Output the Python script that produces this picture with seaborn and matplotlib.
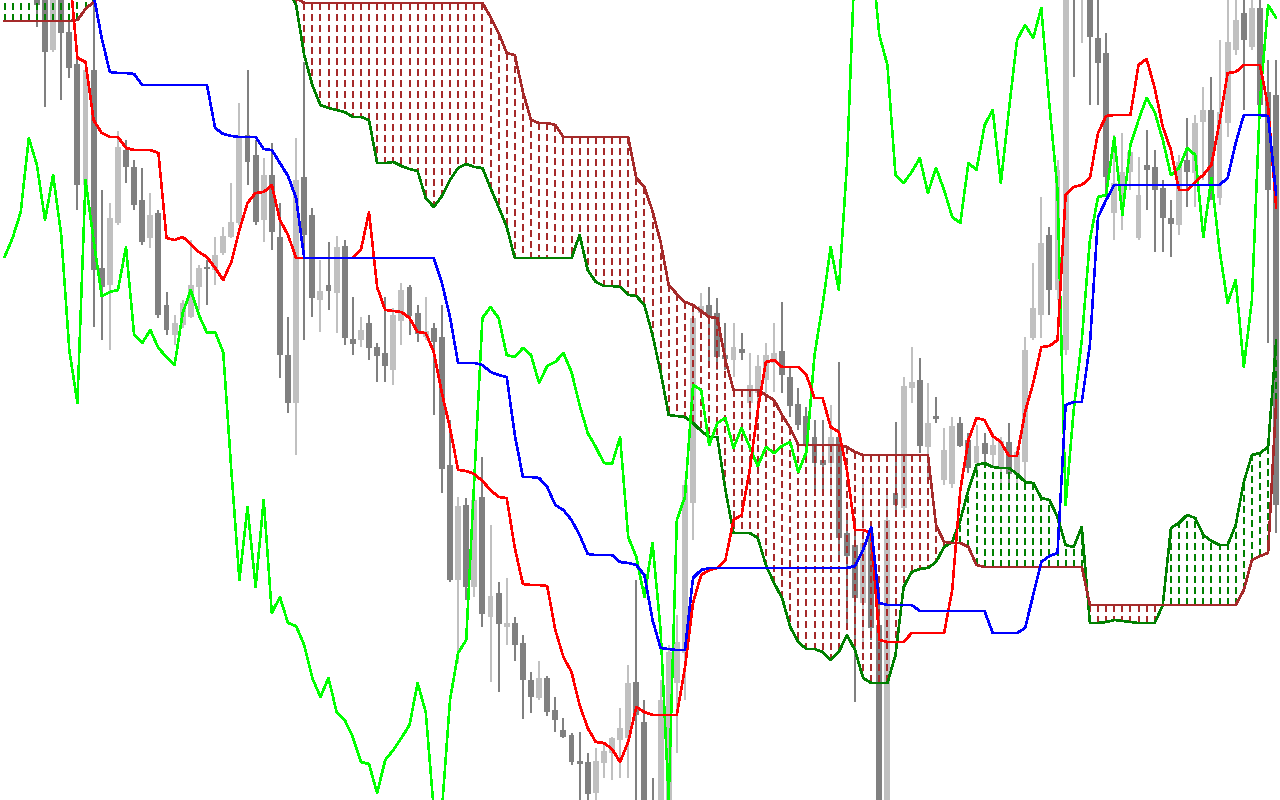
import numpy as np
import pandas as pd
import matplotlib
matplotlib.use("Agg")
import matplotlib.pyplot as plt
import seaborn as sns

# ---- data (price levels expressed in chart pixel rows, top = 0) ----
open_y = [-70, -50, -70, -60, -40, -20, 50, -10, 32, 64,
          185, 70, 268, 285, 223, 150, 167, 200, 238, 213,
          305, 335, 325, 317, 287, 267, 270, 253, 237, 223,
          135, 155, 220, 175, 237, 355, 403, 177, 215, 300,
          285, 293, 246, 339, 340, 323, 347, 353, 370, 321,
          287, 313, 337, 328, 337, 465, 580, 505, 587, 497,
          617, 593, 627, 623, 643, 680, 698, 678, 710, 730,
          735, 761, 762, 793, 763, 753, 740, 738, 682, 722,
          800, 830, 810, 683, 653, 503, 313, 305, 313, 355,
          360, 349, 403, 393, 380, 363, 351, 377, 404, 416,
          437, 460, 463, 437, 533, 545, 603, 533, 625, 805,
          493, 508, 388, 380, 447, 416, 480, 484, 423, 440,
          463, 443, 455, 467, 442, 475, 462, 338, 315, 235,
          290, 350, -90, -20, -20, 38, 53, 213, 200, 172,
          238, 165, 167, 188, 218, 225, 160, 173, 122, 110,
          198, 123, 50, 13, 47, 8, 92, 95]
close_y = [-50, -70, -50, -40, 5, 52, -10, 33, 68, 185,
           70, 270, 287, 218, 147, 167, 205, 242, 215, 315,
           330, 323, 303, 285, 268, 269, 255, 236, 222, 137,
           162, 222, 175, 232, 355, 403, 180, 235, 298, 291,
           291, 247, 338, 344, 330, 348, 356, 366, 315, 290,
           316, 334, 331, 342, 469, 580, 506, 587, 500, 614,
           596, 624, 623, 645, 680, 697, 678, 712, 720, 737,
           762, 764, 794, 761, 751, 738, 728, 683, 715, 810,
           812, 700, 652, 642, 485, 318, 306, 316, 357, 359,
           347, 353, 385, 366, 355, 353, 375, 406, 425, 445,
           463, 465, 437, 538, 556, 598, 543, 628, 805, 520,
           505, 386, 382, 446, 423, 419, 450, 426, 446, 468,
           446, 454, 445, 441, 474, 452, 350, 308, 243, 290,
           170, -45, -60, -50, 37, 63, 177, 183, 172, 152,
           195, 170, 190, 218, 224, 162, 172, 123, 110, 186,
           112, 42, 20, 40, 8, 105, 190, 505]
high_y = [-80, -80, -80, -80, -60, -30, -20, -20, 20, 55,
          65, -5, 190, 203, 131, 140, 160, 168, 193, 210,
          292, 315, 300, 240, 265, 260, 237, 227, 183, 103,
          70, 140, 158, 143, 203, 317, 138, 62, 208, 260,
          242, 236, 240, 297, 317, 315, 343, 297, 308, 283,
          285, 305, 297, 323, 305, 420, 497, 498, 490, 457,
          525, 582, 578, 617, 635, 672, 661, 676, 697, 718,
          733, 732, 753, 748, 743, 737, 708, 665, 580, 700,
          778, 680, 645, 615, 480, 305, 293, 287, 298, 323,
          323, 333, 353, 355, 343, 323, 302, 368, 388, 407,
          420, 420, 405, 362, 520, 533, 480, 527, 600, 493,
          422, 377, 347, 358, 383, 397, 428, 417, 417, 433,
          425, 433, 433, 437, 423, 447, 337, 263, 197, 227,
          160, -60, -100, -100, -40, -5, 33, 135, 133, 145,
          157, 130, 150, 180, 200, 155, 118, 115, 87, 77,
          40, 0, -10, -5, -5, -10, 60, 60]
low_y = [-40, -40, -40, -20, 27, 107, 52, 100, 78, 210,
         190, 327, 340, 350, 225, 183, 210, 245, 248, 318,
         335, 345, 328, 318, 310, 305, 285, 255, 238, 225,
         185, 225, 242, 250, 378, 413, 455, 340, 317, 332,
         310, 333, 345, 355, 347, 360, 382, 382, 385, 345,
         335, 342, 340, 415, 493, 582, 663, 600, 597, 627,
         682, 692, 645, 661, 719, 713, 700, 716, 732, 738,
         765, 805, 805, 805, 778, 780, 778, 778, 805, 850,
         850, 850, 850, 753, 700, 540, 317, 367, 370, 370,
         377, 360, 420, 407, 393, 392, 393, 417, 430, 460,
         493, 493, 493, 555, 627, 702, 650, 640, 850, 850,
         515, 515, 403, 453, 480, 423, 485, 488, 447, 473,
         478, 467, 468, 490, 483, 490, 480, 340, 338, 315,
         300, 355, 77, 43, 105, 105, 195, 240, 230, 190,
         240, 210, 252, 252, 257, 235, 207, 207, 180, 200,
         205, 137, 55, 110, 50, 110, 343, 533]

tenkan = ([-40] * 8 + [-30, 58, 62, 120, 133, 137, 137, 148, 150, 150, 150, 153,
          238, 240, 237, 244, 252, 257, 268, 280, 262, 230, 203, 193, 192, 185,
          220, 235, 258] + [258] * 7 +
          [250, 212, 287, 310, 311, 312, 318, 332, 333, 352, 393, 428, 470, 471,
           474, 481, 490, 497, 498, 548, 584, 585, 585, 586, 630, 657, 672, 705,
           728, 742, 743, 749, 762, 742, 707, 712, 715, 715, 715, 715, 668, 603,
           575, 570, 568, 560, 520, 515, 470, 410, 362, 360, 367, 367, 367, 375,
           398, 398, 427, 432, 470, 530, 530, 533, 640, 642, 642, 642, 633, 633,
           633, 633, 633, 590, 490, 440, 418, 420, 436, 442, 456, 456, 412, 383,
           347, 346, 340, 195, 187, 185, 178, 133, 116, 115, 115, 115, 65, 59,
           88, 127, 150, 190, 190, 182, 175, 165, 122, 73, 72, 65, 65, 65, 107,
           208])
kijun = ([-60] * 11 + [-5, 38, 72, 73, 73, 74, 85] + [85] * 8 +
         [128, 134, 136, 137, 137, 137, 149, 150, 163, 176, 198] + [258] * 17 +
         [283, 317, 363, 363, 363, 365, 372, 375, 377, 435, 477, 477, 478, 487,
          505, 510, 520, 535, 554, 555, 555, 555, 562, 563, 565, 575, 620, 648,
          649, 650, 650, 578, 570] + [568] * 18 +
         [566, 550, 527, 603, 605, 605, 605, 605] + [611] * 9 +
         [633, 633, 633, 633, 628, 595, 562, 556, 553, 405, 402, 402, 345, 217,
          200] + [185] * 14 + [178, 143, 115, 115, 115, 116, 195])
chikou = [257, 238, 212, 138, 165, 220, 175, 235, 350, 403,
          180, 240, 296, 292, 290, 247, 335, 343, 330, 348,
          357, 365, 313, 290, 315, 333, 332, 352, 470, 580,
          507, 587, 500, 613, 597, 623, 626, 645, 678, 697,
          678, 712, 720, 737, 762, 764, 793, 760, 750, 738,
          725, 683, 712, 810, 810, 700, 653, 640, 480, 318,
          307, 318, 355, 357, 348, 355, 383, 366, 362, 353,
          372, 405, 433, 447, 463, 464, 437, 537, 557, 597,
          543, 630, 800, 520, 497, 385, 390, 445, 423, 418,
          448, 428, 447, 466, 447, 453, 446, 442, 472, 452,
          355, 305, 247, 290, 165, -45, -60, -50, 35, 65,
          175, 183, 172, 158, 193, 168, 190, 217, 223, 163,
          170, 125, 110, 183, 110, 40, 25, 38, 8, 105,
          190, 505, 410, 340, 240, 197, 195, 137, 215, 145,
          120, 98, 112, 140, 175, 168, 148, 155, 237, 178,
          250, 303, 280, 367, 300, 100, 5, 18]
senkou_a = ([-20] * 11 + [0] + [-10] * 24 +
            [5, 55, 85, 105, 108, 110, 112, 117, 117, 120, 163, 163, 162, 166,
             169, 171, 198, 207, 196, 180, 168, 164, 167, 168, 188, 207, 227] +
            [258] * 8 +
            [235, 270, 282, 286, 286, 287, 295, 296, 305, 335, 372, 415, 416, 417,
             423, 431, 437, 437, 490, 533, 533, 533, 538, 565, 583, 598, 627, 642,
             649, 649, 652, 660, 652, 635, 650, 678, 683, 683, 683, 655, 587, 572,
             569, 568, 562, 547, 542, 520, 490, 465, 463, 467, 468, 468, 474, 482,
             483, 498, 500, 517, 545, 547, 527, 623, 623, 622, 620, 621, 622, 623,
             623, 623, 605, 528, 523, 515, 518, 535, 541, 545, 545, 525, 482, 455,
             453, 447, 340])
senkou_b = ([21] * 9 + [20, 9, 2] + [-30] * 24 + [-2] + [3] * 23 +
            [17, 33, 53, 55, 92, 120, 123, 123, 125, 137] + [137] * 8 +
            [178, 187, 211, 242, 285, 294, 302, 305, 311, 317, 318, 360, 390, 390,
             390, 390, 395, 400, 415, 428, 445] + [445] * 5 + [447, 452] +
            [455] * 9 + [525, 542, 543, 543, 547, 565] + [567] * 13 +
            [605] * 19 + [590, 560, 556, 553, 400])

n = len(open_y)
for arr in (close_y, high_y, low_y, tenkan, kijun, chikou, senkou_a, senkou_b):
    if len(arr) != n:
        raise ValueError(f"length mismatch {len(arr)} vs {n}")

bars = np.arange(n)
df = pd.DataFrame({"bar": bars, "open": open_y, "close": close_y, "high": high_y,
                   "low": low_y, "tenkan": tenkan, "kijun": kijun, "chikou": chikou,
                   "span_a": senkou_a, "span_b": senkou_b})

sns.set_theme(style="white")
fig = plt.figure(figsize=(12.8, 8), dpi=100)
ax = fig.add_axes([0, 0, 1, 1])
ax.set_facecolor("white")

DARK = "#808080"
LIGHT = "#c0c0c0"
bear = df["close"] >= df["open"]          # rows grow downward on screen
cols = np.where(bear, DARK, LIGHT)

# candles: wicks and bodies
ax.vlines(df["bar"], df["high"], df["low"], colors=cols, linewidth=1.1,
          antialiased=False, zorder=1)
body_top = np.minimum(df["open"], df["close"])
body_h = np.maximum(np.abs(df["close"] - df["open"]), 1.5)
ax.bar(df["bar"], body_h, bottom=body_top, width=0.72, color=cols,
       linewidth=0, antialiased=False, zorder=1)

# cloud hatch (dotted vertical strokes between the two spans)
cloud_col = np.where(df["span_a"] <= df["span_b"], "#008000", "#a52a2a")
ax.vlines(df["bar"], df["span_b"], df["span_a"], colors=cloud_col,
          linewidth=1.6, linestyles=[(0, (2.7, 1.9))], antialiased=False, zorder=2)

common = dict(ax=ax, estimator=None, sort=False, linewidth=1.1, antialiased=False)
sns.lineplot(data=df, x="bar", y="span_a", color="#008000", zorder=3, **common)
sns.lineplot(data=df, x="bar", y="span_b", color="#a52a2a", zorder=3, **common)
sns.lineplot(data=df, x="bar", y="chikou", color="#00ff00", zorder=4, **common)
sns.lineplot(data=df, x="bar", y="tenkan", color="#ff0000", zorder=5, **common)
sns.lineplot(data=df, x="bar", y="kijun", color="#0000ff", zorder=6, **common)

ax.set_xlim(-4.5 / 8.1, (1280 - 4.5) / 8.1)
ax.set_ylim(800, 0)
ax.axis("off")
fig.savefig("out.png", dpi=100, facecolor="white")
